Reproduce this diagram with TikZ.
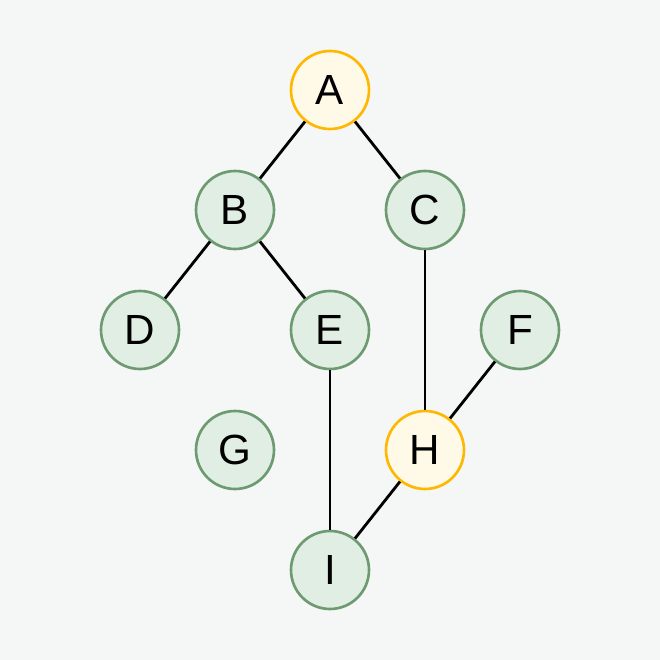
\documentclass[tikz,border=0pt]{standalone}
\usepackage{fontspec}
\setmainfont{Liberation Sans}
\usepackage{tikz}
\usetikzlibrary{positioning}
\definecolor{bgcol}{HTML}{F5F7F7}
\definecolor{greenfill}{HTML}{E1EEE4}
\definecolor{greenline}{HTML}{6D9A70}
\definecolor{goldfill}{HTML}{FFF9E8}
\definecolor{goldline}{HTML}{FFB800}
\begin{document}
\begin{tikzpicture}[
    vertex/.style={circle, draw=greenline, fill=greenfill, line width=0.75pt,
                   minimum size=0.78cm, inner sep=0pt,
                   font=\fontsize{12}{14}\selectfont},
    marked/.style={vertex, draw=goldline, fill=goldfill},
    edge/.style={line width=0.8pt, black}]
    \fill[bgcol] (0,0) rectangle (6.6,6.6);
    \useasboundingbox (0,0) rectangle (6.6,6.6);
    \node[marked] (A) at (3.30,5.70) {A};
    \node[vertex] (B) at (2.35,4.50) {B};
    \node[vertex] (C) at (4.25,4.50) {C};
    \node[vertex] (D) at (1.40,3.30) {D};
    \node[vertex] (E) at (3.30,3.30) {E};
    \node[vertex] (F) at (5.20,3.30) {F};
    \node[vertex] (G) at (2.35,2.10) {G};
    \node[marked] (H) at (4.25,2.10) {H};
    \node[vertex] (I) at (3.30,0.90) {I};
    \draw[edge] (A) -- (B);
    \draw[edge] (A) -- (C);
    \draw[edge] (B) -- (D);
    \draw[edge] (B) -- (E);
    \draw[edge] (C) -- (H);
    \draw[edge] (E) -- (I);
    \draw[edge] (F) -- (H);
    \draw[edge] (H) -- (I);
\end{tikzpicture}
\end{document}
